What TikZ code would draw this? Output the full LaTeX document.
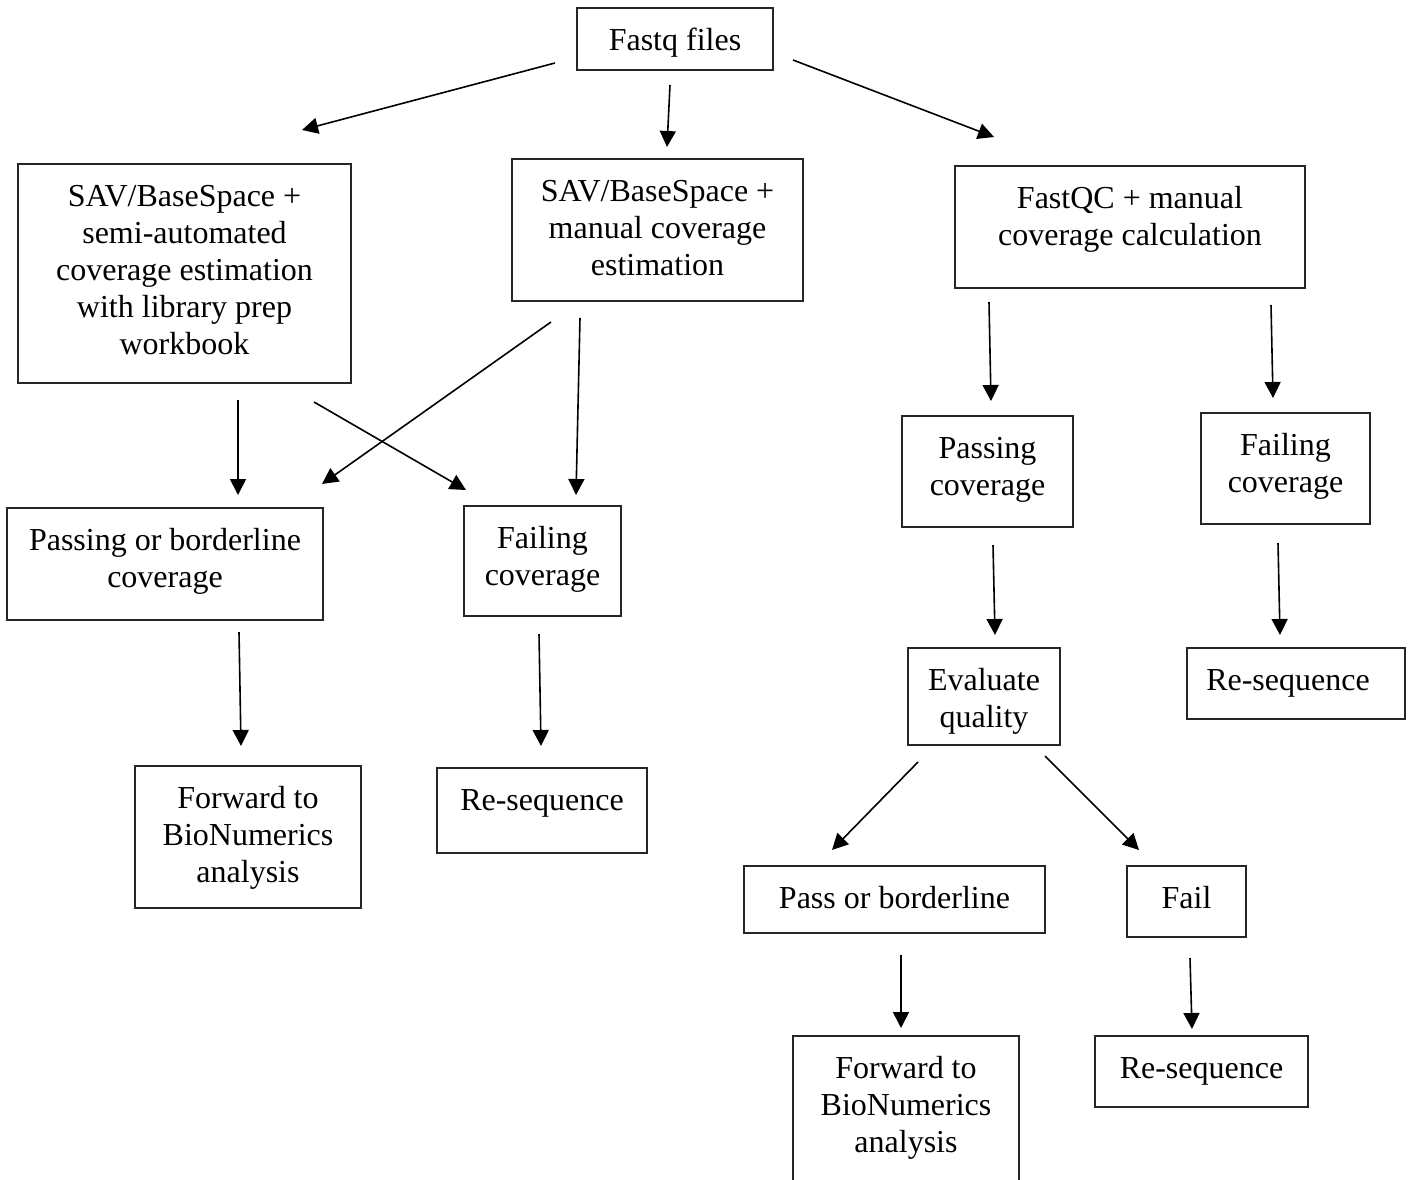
\documentclass[tikz,border=0pt]{standalone}
\usepackage{fontspec}
\setmainfont{Liberation Serif}
\usetikzlibrary{arrows.meta}
\tikzset{
  boxst/.style={draw=black!85, line width=1.1pt, inner sep=0pt, outer sep=0pt},
  arr/.style={line width=1.6pt, -{Triangle[length=16pt,width=16pt]}}
}
\newcommand\bx[6]{\node[boxst,anchor=north west] (#1) at (#2,#3)
  {\parbox[c][\dimexpr#5pt-#3pt\relax][t]{\dimexpr#4pt-#2pt\relax}{\centering\fontsize{32pt}{37pt}\selectfont\vspace*{17pt}\strut #6\par}};}
\begin{document}
\begin{tikzpicture}[x=1pt,y=-1pt]
\useasboundingbox (0,0) rectangle (1413,1180);
\bx{fastq}{577}{8}{773}{70}{Fastq files}
\bx{savA}{18}{164}{351}{383}{SAV/BaseSpace +\\ semi-automated\\ coverage estimation\\ with library prep\\ workbook}
\bx{savB}{512}{159}{803}{301}{SAV/BaseSpace +\\ manual coverage\\ estimation}
\bx{fqc}{955}{166}{1305}{288}{FastQC + manual\\ coverage calculation}
\bx{passA}{7}{508}{323}{620}{Passing or borderline\\ coverage}
\bx{failA}{464}{506}{621}{616}{Failing\\ coverage}
\bx{fwdA}{135}{766}{361}{908}{Forward to\\ BioNumerics\\ analysis}
\bx{reA}{437}{768}{647}{853}{Re-sequence}
\bx{passB}{902}{416}{1073}{527}{Passing\\ coverage}
\bx{failB}{1201}{413}{1370}{524}{Failing\\ coverage}
\bx{eval}{908}{648}{1060}{745}{Evaluate\\ quality}
\bx{reB}{1187}{648}{1405}{719}{\hspace*{-16pt}Re-sequence}
\bx{pob}{744}{866}{1045}{933}{Pass or borderline}
\bx{fail}{1127}{866}{1246}{937}{Fail}
\bx{fwdB}{793}{1036}{1019}{1190}{Forward to\\ BioNumerics\\ analysis}
\bx{reC}{1095}{1036}{1308}{1107}{Re-sequence}
% arrow end points
\coordinate (a1s) at (555,63);   \coordinate (a1e) at (302,130);
\coordinate (a2s) at (670,85);   \coordinate (a2e) at (667,147);
\coordinate (a3s) at (793,60);   \coordinate (a3e) at (994,137);
\coordinate (a4s) at (238,400);  \coordinate (a4e) at (238,495);
\coordinate (a5s) at (314,402);  \coordinate (a5e) at (466,490);
\coordinate (a6s) at (551,322);  \coordinate (a6e) at (322,484);
\coordinate (a7s) at (580,318);  \coordinate (a7e) at (576,495);
\coordinate (a8s) at (239,632);  \coordinate (a8e) at (241,746);
\coordinate (a9s) at (539,634);  \coordinate (a9e) at (541,746);
\coordinate (b1s) at (989,302);  \coordinate (b1e) at (991,401);
\coordinate (b2s) at (1271,305); \coordinate (b2e) at (1273,398);
\coordinate (b3s) at (993,545);  \coordinate (b3e) at (995,635);
\coordinate (b4s) at (1278,543); \coordinate (b4e) at (1280,635);
\coordinate (b5s) at (918,762);  \coordinate (b5e) at (832,850);
\coordinate (b6s) at (1045,756); \coordinate (b6e) at (1139,850);
\coordinate (b7s) at (901,955);  \coordinate (b7e) at (901,1028);
\coordinate (b8s) at (1190,958); \coordinate (b8e) at (1192,1029);
\foreach \p in {a1,a2,a3,a4,a5,a6,a7,a8,a9,b1,b2,b3,b4,b5,b6,b7,b8}
  \draw[arr] (\p s) -- (\p e);
\end{tikzpicture}
\end{document}
